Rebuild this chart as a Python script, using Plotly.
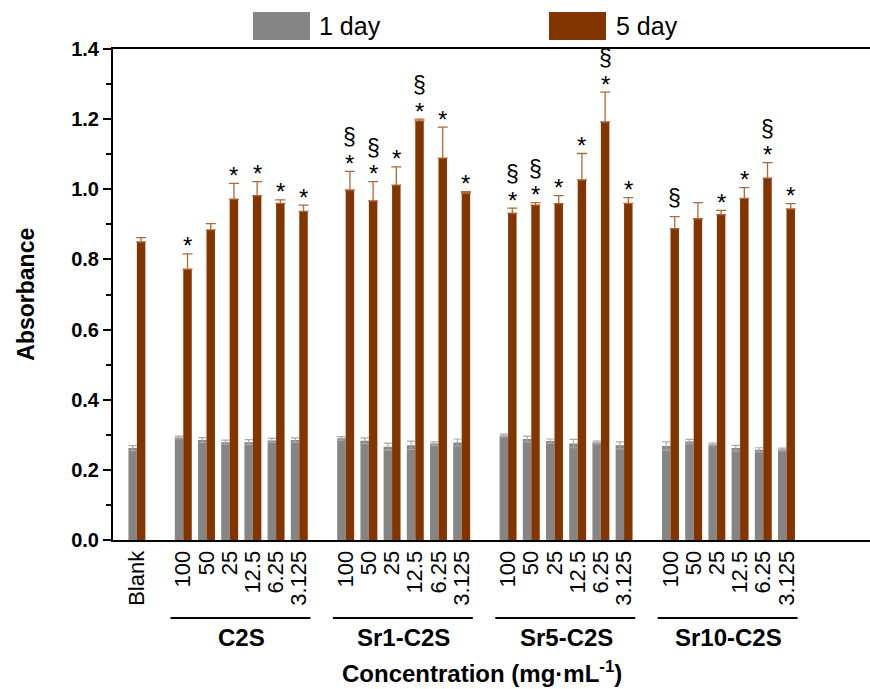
import plotly.graph_objects as go

# ---------------- data ----------------
tick_labels = ["Blank",
               "100", "50", "25", "12.5", "6.25", "3.125",
               "100", "50", "25", "12.5", "6.25", "3.125",
               "100", "50", "25", "12.5", "6.25", "3.125",
               "100", "50", "25", "12.5", "6.25", "3.125"]
positions = [0, 2, 3, 4, 5, 6, 7, 9, 10, 11, 12, 13, 14,
             16, 17, 18, 19, 20, 21, 23, 24, 25, 26, 27, 28]
groups = ["C2S", "Sr1-C2S", "Sr5-C2S", "Sr10-C2S"]
group_first = [2, 9, 16, 23]
group_last = [7, 14, 21, 28]

day1 = [0.262,
        0.292, 0.285, 0.279, 0.279, 0.284, 0.285,
        0.290, 0.283, 0.266, 0.270, 0.275, 0.278,
        0.298, 0.288, 0.282, 0.275, 0.278, 0.270,
        0.268, 0.281, 0.272, 0.262, 0.257, 0.258]
day1_err = [0.007,
            0.004, 0.007, 0.006, 0.007, 0.006, 0.006,
            0.005, 0.008, 0.010, 0.012, 0.005, 0.010,
            0.004, 0.008, 0.006, 0.012, 0.004, 0.010,
            0.012, 0.006, 0.004, 0.008, 0.006, 0.004]
day5 = [0.850,
        0.772, 0.884, 0.972, 0.982, 0.960, 0.937,
        0.998, 0.967, 1.012, 1.195, 1.089, 0.989,
        0.932, 0.955, 0.959, 1.027, 1.192, 0.960,
        0.888, 0.916, 0.928, 0.974, 1.032, 0.944]
day5_err = [0.012,
            0.044, 0.018, 0.045, 0.040, 0.010, 0.018,
            0.053, 0.055, 0.052, 0.005, 0.088, 0.004,
            0.014, 0.007, 0.023, 0.075, 0.085, 0.016,
            0.034, 0.046, 0.012, 0.031, 0.044, 0.015]
star = [0,
        1, 0, 1, 1, 1, 1,
        1, 1, 1, 1, 1, 1,
        1, 1, 1, 1, 1, 1,
        0, 0, 1, 1, 1, 1]
section = [0,
           0, 0, 0, 0, 0, 0,
           1, 1, 0, 1, 0, 0,
           1, 1, 0, 0, 1, 0,
           1, 0, 0, 0, 1, 0]

GRAY = "#858585"
BROWN = "#833500"
FONT = "Liberation Sans"

fig = go.Figure()
fig.add_trace(go.Bar(
    x=positions, y=day1, name="1 day",
    marker=dict(color=GRAY, line=dict(width=0)),
    error_y=dict(type="data", array=day1_err, symmetric=True,
                 color="#a8a8a8", thickness=1.2, width=4),
))
fig.add_trace(go.Bar(
    x=positions, y=day5, name="5 day",
    marker=dict(color=BROWN, line=dict(width=0)),
    error_y=dict(type="data", array=day5_err, arrayminus=[0] * len(day5_err),
                 symmetric=False, color="#b0683a", thickness=1.3, width=5),
))

annotations = []
shapes = []

# significance marks
for p, v, e, s, sec in zip(positions, day5, day5_err, star, section):
    top = v + e
    xpos = p + 0.185
    if s:
        annotations.append(dict(x=xpos, y=top, xref="x", yref="y", text="*",
                                showarrow=False, yanchor="middle", yshift=8,
                                font=dict(family=FONT, size=24, color="black")))
        if sec:
            annotations.append(dict(x=xpos, y=top, xref="x", yref="y", text="§",
                                    showarrow=False, yanchor="middle", yshift=34,
                                    font=dict(family=FONT, size=23, color="black")))
    elif sec:
        annotations.append(dict(x=xpos, y=top, xref="x", yref="y", text="§",
                                showarrow=False, yanchor="middle", yshift=19,
                                font=dict(family=FONT, size=23, color="black")))

# group brackets and labels
for g, a, b in zip(groups, group_first, group_last):
    shapes.append(dict(type="line", xref="x", yref="paper",
                       x0=a - 0.55, x1=b + 0.48, y0=-0.159, y1=-0.159,
                       line=dict(color="black", width=2)))
    annotations.append(dict(x=(a + b) / 2, y=-0.198, xref="x", yref="paper",
                            text=g, showarrow=False, yanchor="middle",
                            font=dict(family=FONT, size=24, color="black", weight="bold")))

# axis titles
annotations.append(dict(x=0.487, y=-0.268, xref="paper", yref="paper",
                        text="Concentration (mg·mL<sup>-1</sup>)", showarrow=False,
                        yanchor="middle",
                        font=dict(family=FONT, size=24, color="black", weight="bold")))
annotations.append(dict(x=-0.116, y=0.5, xref="paper", yref="paper",
                        text="Absorbance", showarrow=False, textangle=-90,
                        xanchor="center", yanchor="middle",
                        font=dict(family=FONT, size=23, color="black", weight="bold")))

# custom legend
W = 757.0
H = 491.0
def px(xp):
    return (xp - 113) / W
def py(yp):
    return (540 - yp) / H

for (x0, x1, col, txt, tx) in [(253, 310, GRAY, "1 day", 317), (549, 606, BROWN, "5 day", 614)]:
    shapes.append(dict(type="rect", xref="paper", yref="paper",
                       x0=px(x0), x1=px(x1), y0=py(40), y1=py(12),
                       fillcolor=col, line=dict(width=0)))
    annotations.append(dict(x=px(tx), y=py(26), xref="paper", yref="paper",
                            text=txt, showarrow=False, xanchor="left", yanchor="middle",
                            font=dict(family=FONT, size=25, color="black")))

fig.update_layout(
    width=870, height=689,
    margin=dict(l=113, r=0, t=49, b=149),
    paper_bgcolor="white", plot_bgcolor="white",
    barmode="group", bargap=0.27, bargroupgap=0.0,
    showlegend=False,
    annotations=annotations, shapes=shapes,
    font=dict(family=FONT, color="black"),
)
fig.update_xaxes(
    range=[-1.03, 31.6], tickmode="array", tickvals=positions, ticktext=tick_labels,
    tickangle=-90, ticks="", showgrid=False, zeroline=False,
    showline=True, linecolor="black", linewidth=2, mirror=True,
    tickfont=dict(family=FONT, size=22, color="black"),
)
fig.update_yaxes(
    range=[0, 1.4], dtick=0.2, tick0=0, tickformat=".1f",
    ticks="outside", ticklen=8, tickwidth=2, tickcolor="black",
    minor=dict(dtick=0.1, ticks="outside", ticklen=5, tickwidth=1.5, tickcolor="black"),
    showgrid=False, zeroline=False, showline=True, linecolor="black", linewidth=2,
    tickfont=dict(family=FONT, size=20, color="black", weight="bold"),
)

fig.write_html("out.html")
